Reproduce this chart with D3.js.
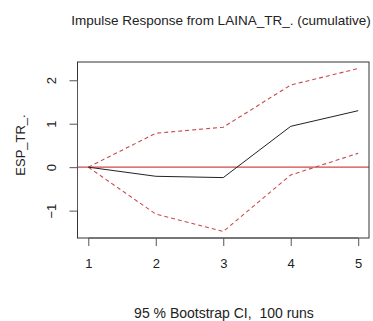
<!DOCTYPE html>
<html>
<head>
<meta charset="utf-8">
<script src="https://cdn.jsdelivr.net/npm/d3@7"></script>
<style>
  body { margin: 0; background: #fff; }
  text { font-family: "Liberation Sans", Arial, sans-serif; fill: #222; white-space: pre; }
</style>
</head>
<body>
<svg id="plotCanvas" width="373" height="321"></svg>
<script>
// horizon steps and cumulative impulse response
var steps = [1, 2, 3, 4, 5]
var response = [0, -0.21, -0.24, 0.94, 1.30]
var upperCI = [0, 0.78, 0.92, 1.89, 2.27]
var lowerCI = [0, -1.08, -1.48, -0.18, 0.32]
var yTicks = [-1, 0, 1, 2]

var margin = {top: 62, right: 4, bottom: 83, left: 77.5}
var svg = d3.select("#plotCanvas")
var width = 373 - margin.left - margin.right
var height = 321 - margin.top - margin.bottom

// R style 4% padding on both axes
var xExt = [1 - 0.16, 5 + 0.16]
var yMin = d3.min(lowerCI), yMax = d3.max(upperCI)
var pad = (yMax - yMin) * 0.04
var xScale = d3.scaleLinear().domain(xExt).range([0, width])
var yScale = d3.scaleLinear().domain([yMin - pad, yMax + pad]).range([height, 0])

var g = svg.append("g").attr("transform", "translate(" + margin.left + "," + margin.top + ")")

// zero line
g.append("line")
  .attr("x1", 0).attr("x2", width)
  .attr("y1", yScale(0)).attr("y2", yScale(0))
  .attr("stroke", "#d04848").attr("stroke-width", 1.2)

var line = d3.line()
  .x(function(d, i) { return xScale(steps[i]) })
  .y(function(d) { return yScale(d) })

// confidence bands
;[upperCI, lowerCI].forEach(function(s) {
  g.append("path").datum(s).attr("d", line)
    .attr("fill", "none").attr("stroke", "#c84a4a")
    .attr("stroke-width", 1.1).attr("stroke-dasharray", "4,3")
})

g.append("path").datum(response).attr("d", line)
  .attr("fill", "none").attr("stroke", "#222").attr("stroke-width", 1)

// box
g.append("rect").attr("width", width).attr("height", height)
  .attr("fill", "none").attr("stroke", "#333").attr("stroke-width", 1)

var labelFont = "13px"

// x axis, sits on the box edge
var xAxis = g.append("g").attr("transform", "translate(0," + height + ")")
  .call(d3.axisBottom(xScale).tickValues(steps).tickFormat(d3.format("d")).tickSize(8).tickSizeOuter(0))
xAxis.select(".domain").attr("d", "M" + xScale(1) + ",0H" + xScale(5)).attr("stroke", "#555")
xAxis.selectAll(".tick line").attr("stroke", "#555")
xAxis.selectAll(".tick text").attr("y", 21).attr("dy", "0.71em")
  .style("font-size", labelFont).attr("fill", "#222")

// y axis
var yAxis = g.append("g")
  .call(d3.axisLeft(yScale).tickValues(yTicks).tickFormat(d3.format("d")).tickSize(8).tickSizeOuter(0))
yAxis.select(".domain").attr("d", "M0," + yScale(-1) + "V" + yScale(2)).attr("stroke", "#555")
yAxis.selectAll(".tick line").attr("stroke", "#555")
yAxis.selectAll(".tick text")
  .attr("x", 0).attr("dy", 0)
  .attr("transform", "translate(-26,0) rotate(-90)")
  .attr("text-anchor", "middle").attr("dominant-baseline", "central")
  .style("font-size", labelFont).attr("fill", "#222")

// titles
svg.append("text").attr("x", 221).attr("y", 25)
  .attr("text-anchor", "middle").style("font-size", "13.5px")
  .text("Impulse Response from LAINA_TR_. (cumulative)")

svg.append("text").attr("transform", "translate(25," + (margin.top + height / 2 - 5) + ") rotate(-90)")
  .attr("text-anchor", "middle").style("font-size", "13px")
  .text("ESP_TR_.")

svg.append("text").attr("x", 224).attr("y", 318)
  .attr("text-anchor", "middle").style("font-size", "14px")
  .text("95 % Bootstrap CI,  100 runs")
</script>
</body>
</html>
